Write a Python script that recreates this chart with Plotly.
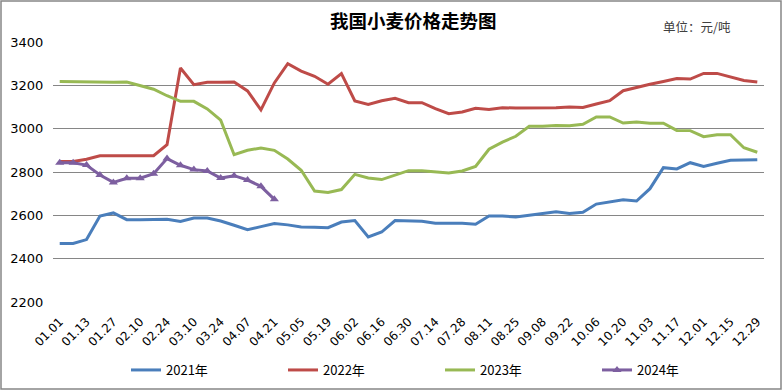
import plotly.graph_objects as go

categories = ["01.01", "01.06", "01.13", "01.20", "01.27", "02.03", "02.10", "02.17", "02.24",
              "03.03", "03.10", "03.17", "03.24", "03.31", "04.07", "04.14", "04.21", "04.28",
              "05.05", "05.12", "05.19", "05.26", "06.02", "06.09", "06.16", "06.23", "06.30",
              "07.07", "07.14", "07.21", "07.28", "08.04", "08.11", "08.18", "08.25", "09.01",
              "09.08", "09.15", "09.22", "09.29", "10.06", "10.13", "10.20", "10.27", "11.03",
              "11.10", "11.17", "11.24", "12.01", "12.08", "12.15", "12.22", "12.29"]

tick_labels = categories[::2]

y2021 = [2470, 2470, 2488, 2597, 2611, 2580, 2580, 2582, 2582, 2572, 2588, 2588, 2574, 2554,
         2534, 2548, 2562, 2556, 2546, 2545, 2543, 2569, 2576, 2500, 2523, 2576, 2574, 2573,
         2563, 2563, 2563, 2559, 2597, 2597, 2592, 2600, 2609, 2616, 2609, 2614, 2652, 2662,
         2672, 2666, 2723, 2820, 2814, 2843, 2826, 2840, 2854, 2855, 2857]

y2022 = [2849, 2849, 2859, 2875, 2875, 2875, 2875, 2875, 2926, 3280, 3203, 3214, 3214, 3215,
         3174, 3087, 3211, 3300, 3266, 3242, 3205, 3254, 3128, 3112, 3129, 3140, 3120, 3120,
         3092, 3069, 3077, 3094, 3089, 3097, 3095, 3095, 3094, 3097, 3100, 3098, 3114, 3129,
         3175, 3191, 3205, 3218, 3231, 3229, 3255, 3255, 3238, 3222, 3215]

y2023 = [3218, 3217, 3214, 3214, 3214, 3215, 3197, 3182, 3152, 3126, 3126, 3091, 3039, 2880,
         2900, 2911, 2900, 2860, 2808, 2712, 2706, 2719, 2789, 2772, 2765, 2785, 2806, 2806,
         2802, 2795, 2805, 2826, 2905, 2938, 2965, 3011, 3011, 3015, 3014, 3020, 3054, 3054,
         3026, 3031, 3025, 3025, 2992, 2991, 2963, 2972, 2972, 2912, 2891]

y2024 = [2843, 2843, 2832, 2786, 2752, 2771, 2771, 2792, 2862, 2831, 2811, 2805, 2772, 2783,
         2763, 2734, 2674]

series = [
    ("2021年", y2021, "#4A7EBB", False),
    ("2022年", y2022, "#BE4B48", False),
    ("2023年", y2023, "#98B954", False),
    ("2024年", y2024, "#7D5FA0", True),
]

fig = go.Figure()
for name, vals, color, marker in series:
    fig.add_trace(go.Scatter(
        x=categories[:len(vals)], y=vals, name=name,
        mode="lines+markers" if marker else "lines",
        line=dict(color=color, width=3),
        marker=dict(symbol="triangle-up", size=8, color=color) if marker else None,
    ))

font_main = "DejaVu Sans, Noto Sans CJK SC, sans-serif"

fig.update_layout(
    width=784, height=391,
    margin=dict(l=53, r=20, t=42, b=89, autoexpand=False),
    paper_bgcolor="white", plot_bgcolor="white",
    font=dict(family=font_main, size=13, color="#000000"),
    showlegend=True,
    legend=dict(orientation="h", x=(126 - 53) / 711, xanchor="left",
                y=-(355 - 302) / 260, yanchor="top",
                font=dict(size=13, family="Noto Sans CJK SC, DejaVu Sans"),
                entrywidth=112, bgcolor="rgba(0,0,0,0)"),
    xaxis=dict(type="category", categoryorder="array", categoryarray=categories,
               range=[-0.5, len(categories) - 0.5], automargin=False,
               tickmode="array", tickvals=tick_labels, ticktext=tick_labels,
               tickangle=-45, showgrid=False, showline=False, zeroline=False,
               ticks="outside", ticklen=7, tickcolor="rgba(0,0,0,0)",
               tickfont=dict(size=12)),
    yaxis=dict(range=[2200, 3400], dtick=200, showgrid=True, gridcolor="#868686",
               gridwidth=1, zeroline=False, showline=False, ticks="outside",
               automargin=False,
               ticklen=6, tickcolor="rgba(0,0,0,0)", tickfont=dict(size=13)),
    annotations=[
        dict(text="<b>我国小麦价格走势图</b>", xref="paper", yref="paper",
             x=(413 - 53) / 711, y=1 + (42 - 19.5) / 260, xanchor="center", yanchor="middle",
             showarrow=False, font=dict(size=18.5, family="Noto Sans CJK SC", color="#000000")),
        dict(text="单位：元/吨", xref="paper", yref="paper",
             x=(661 - 53) / 711, y=1 + (42 - 27) / 260, xanchor="left", yanchor="middle",
             showarrow=False, font=dict(size=12.5, family="Noto Sans CJK SC", color="#404040")),
    ],
    shapes=[
        dict(type="rect", xref="paper", yref="paper",
             x0=(1 - 53) / 711, x1=(781 - 53) / 711,
             y0=-(389 - 302) / 260, y1=1 + (42 - 1) / 260,
             line=dict(color="#868686", width=1.5), fillcolor="rgba(0,0,0,0)", layer="below"),
    ],
)

fig.write_html("out.html", config={"displayModeBar": False},
               post_script="document.body.style.margin='0';document.body.style.overflow='hidden';")
